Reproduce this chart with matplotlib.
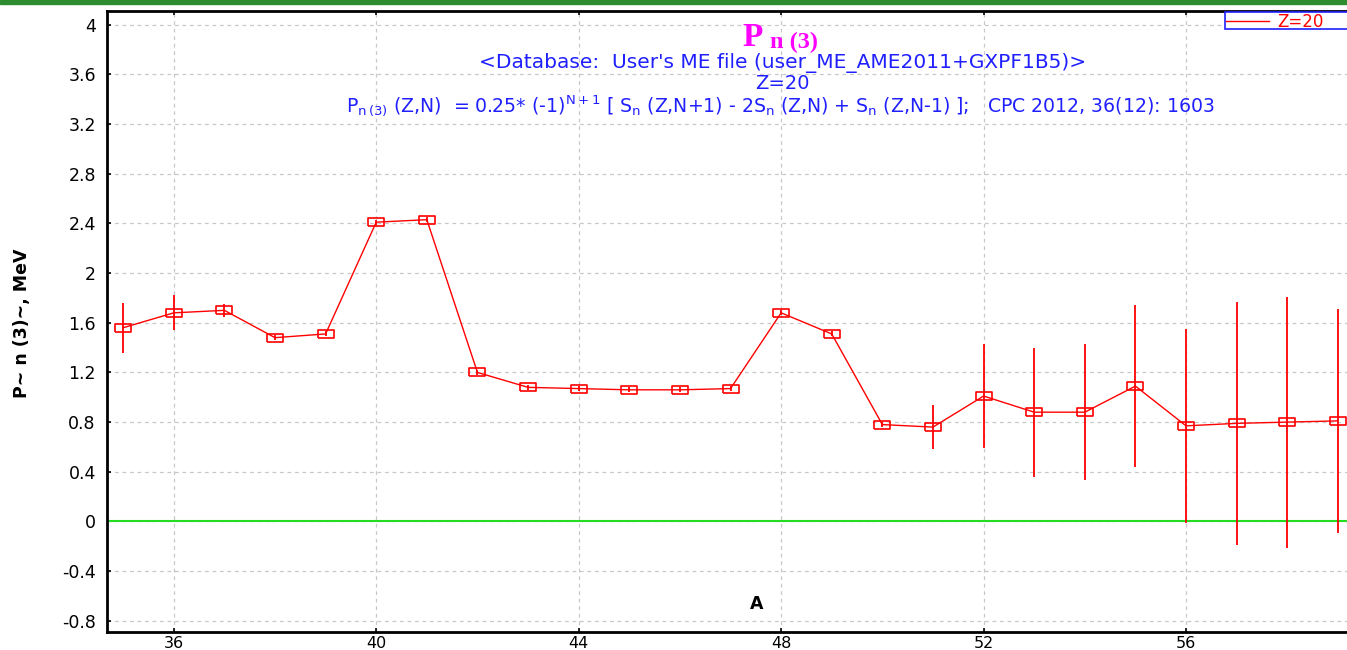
import matplotlib
matplotlib.use("Agg")
import matplotlib.pyplot as plt
from matplotlib.patches import Rectangle
from matplotlib.lines import Line2D

plt.rcParams['font.family'] = ['DejaVu Sans']
plt.rcParams['mathtext.default'] = 'regular'

# data
A = [35, 36, 37, 38, 39, 40, 41, 42, 43, 44, 45, 46, 47, 48, 49, 50, 51, 52,
     53, 54, 55, 56, 57, 58, 59]
pn3 = [1.56, 1.68, 1.70, 1.48, 1.51, 2.41, 2.43, 1.20, 1.08, 1.07, 1.06, 1.06,
       1.07, 1.68, 1.51, 0.78, 0.76, 1.01, 0.88, 0.88, 1.09, 0.77, 0.79, 0.80,
       0.81]
err = [0.20, 0.14, 0.05, 0.02, 0.02, 0.02, 0.02, 0.02, 0.02, 0.02, 0.02, 0.02,
       0.02, 0.02, 0.02, 0.02, 0.18, 0.42, 0.52, 0.55, 0.65, 0.78, 0.98, 1.01,
       0.90]
xticks = [36, 40, 44, 48, 52, 56]
yticks = [-0.8, -0.4, 0, 0.4, 0.8, 1.2, 1.6, 2, 2.4, 2.8, 3.2, 3.6, 4]
ytick_labels = ['-0.8', '-0.4', '0', '0.4', '0.8', '1.2', '1.6', '2', '2.4',
                '2.8', '3.2', '3.6', '4']

fig = plt.figure(figsize=(13.47, 6.5), dpi=100)
ax = fig.add_axes([0.0794, 0.0277, 0.9206, 0.9553])

# green bar at the top of the window
fig.patches.append(Rectangle((0, 0.994), 1, 0.006, transform=fig.transFigure,
                             color='#2e8b2e', zorder=10))

rect = [(-1, -0.5), (1, -0.5), (1, 0.5), (-1, 0.5), (-1, -0.5)]
ax.errorbar(A, pn3, yerr=err, color='red', lw=1, elinewidth=1.3, capsize=0,
            marker=rect, markersize=12, markerfacecolor='none',
            markeredgecolor='red', markeredgewidth=1.2, zorder=3)
ax.axhline(0, color='#22dd22', lw=1.5, zorder=2)

ax.set_xlim(34.68, 59.18)
ax.set_ylim(-0.89, 4.11)
ax.set_xticks(xticks)
ax.set_yticks(yticks)
ax.set_yticklabels(ytick_labels)
ax.grid(True, color='#c8c8c8', ls=(0, (3, 3)), lw=0.9)
ax.tick_params(direction='in', length=3, width=1.2, top=True)
ax.tick_params(axis='y', pad=8, labelsize=12.5)
ax.tick_params(axis='x', pad=3, labelsize=11.5)
for s in ax.spines.values():
    s.set_linewidth(2)
ax.spines['right'].set_visible(False)

ax.text(0.524, 0.045, 'A', transform=ax.transAxes, ha='center', va='center',
        fontsize=12.5, fontweight='bold')
fig.text(0.016, 0.503, 'P~ n (3)~, MeV', rotation=90, ha='center',
         va='center', fontsize=12.5, fontweight='bold')

# titles
fig.text(0.5665, 0.930, 'P', color='#ff00ff', ha='right', va='baseline',
         fontsize=24, fontweight='bold', family='Liberation Serif')
fig.text(0.5715, 0.926, 'n (3)', color='#ff00ff', ha='left', va='baseline',
         fontsize=17.5, fontweight='bold', family='Liberation Serif')
fig.text(0.581, 0.903, "<Database:  User's ME file (user_ME_AME2011+GXPF1B5)>",
         color='#2020ff', ha='center', va='center', fontsize=14.5)
fig.text(0.581, 0.871, 'Z=20', color='#2020ff', ha='center', va='center',
         fontsize=14)
fig.text(0.2569, 0.837,
         r'P$_{n\,(3)}$ (Z,N)  = 0.25* (-1)$^{N+1}$ [ S$_{n}$ (Z,N+1) - 2S$_{n}$ (Z,N) + S$_{n}$ (Z,N-1) ];   CPC 2012, 36(12): 1603',
         color='#2020ff', ha='left', va='center', fontsize=13.6)

# legend box runs off the right edge of the window
fig.patches.append(Rectangle((0.9095, 0.955), 0.1, 0.027,
                             transform=fig.transFigure, facecolor='white',
                             edgecolor='#2020ff', lw=1.2, zorder=5))
handle = Line2D([], [], color='red', lw=1)
leg = fig.legend(handles=[handle], labels=['Z=20'], loc='upper left',
                 bbox_to_anchor=(0.9095, 0.982), fontsize=12, frameon=False,
                 borderpad=0.05, handlelength=2.6, handletextpad=0.5,
                 borderaxespad=0)
leg.set_zorder(6)
for t in leg.get_texts():
    t.set_color('red')

fig.savefig('out.png', dpi=100)
